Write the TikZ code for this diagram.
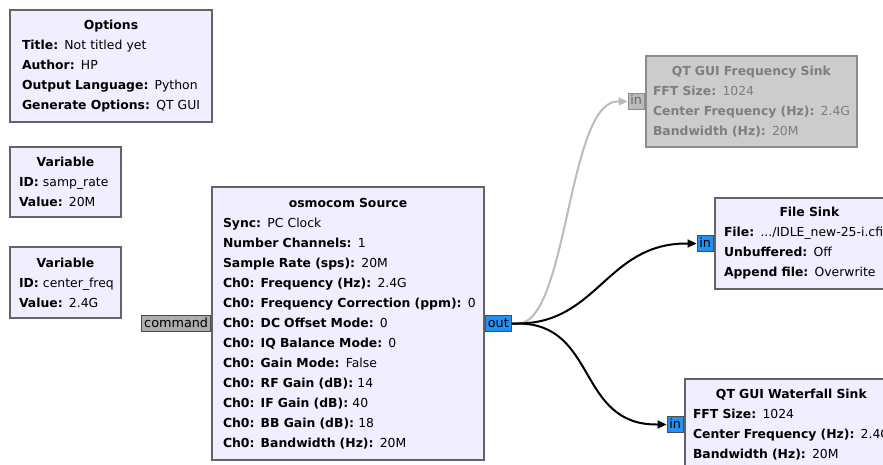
\documentclass[tikz,border=0pt]{standalone}
\usepackage{fontspec}
\setmainfont{DejaVu Sans}
\usetikzlibrary{arrows.meta, positioning}

\definecolor{blkfill}{HTML}{F1EEFF}
\definecolor{blkline}{HTML}{646464}
\definecolor{offfill}{HTML}{CCCCCC}
\definecolor{offline}{HTML}{8C8C8C}
\definecolor{offtext}{HTML}{7E7E7E}
\definecolor{portblue}{HTML}{2291F2}
\definecolor{portgray}{HTML}{ADADAD}
\definecolor{linkgray}{HTML}{BBBBBB}

\newcommand{\kv}[2]{\mbox{\textbf{#1:} #2}}
\newcommand{\btitle}[1]{\makebox[\linewidth]{\textbf{#1}}}

\begin{document}
\begin{tikzpicture}[x=1pt, y=-1pt,
      block/.style={rectangle, draw=blkline, line width=2pt, fill=blkfill, align=left, inner ysep=0pt, anchor=north west, font=\fontsize{12.4}{20}\selectfont},
      offblock/.style={block, draw=offline, fill=offfill, text=offtext},
      port/.style={rectangle, draw=black!70, line width=0.8pt, inner xsep=2.5pt, inner ysep=2pt, text height=9.5pt, text depth=2.5pt, font=\fontsize{12.8}{13}\selectfont},
      link/.style={line width=2pt, -{Triangle[length=9pt,width=8pt]}}
    ]
    \useasboundingbox (0,0) rectangle (883,465);
    \clip (0,0) rectangle (883,465);

    % Options and variables
    \node[block, inner xsep=12pt, text width=178pt, minimum height=112pt] (opts) at (9,9)
      {\btitle{Options}\\ \kv{Title}{Not titled yet}\\ \kv{Author}{HP}\\ \kv{Output Language}{Python}\\ \kv{Generate Options}{QT GUI}};
    \node[block, inner xsep=9pt, text width=93pt, minimum height=70pt] (vrate) at (9,146)
      {\btitle{Variable}\\ \kv{ID}{samp\_rate}\\ \kv{Value}{20M}};
    \node[block, inner xsep=9pt, text width=93pt, minimum height=71pt] (vfreq) at (9,246)
      {\btitle{Variable}\\ \kv{ID}{center\_freq}\\ \kv{Value}{2.4G}};

    % Source
    \node[block, inner xsep=11pt, text width=250pt, minimum height=273pt] (src) at (211,186)
      {\btitle{osmocom Source}\\ \kv{Sync}{PC Clock}\\ \kv{Number Channels}{1}\\ \kv{Sample Rate (sps)}{20M}\\
       \kv{Ch0: Frequency (Hz)}{2.4G}\\ \kv{Ch0: Frequency Correction (ppm)}{0}\\ \kv{Ch0: DC Offset Mode}{0}\\
       \kv{Ch0: IQ Balance Mode}{0}\\ \kv{Ch0: Gain Mode}{False}\\ \kv{Ch0: RF Gain (dB)}{14}\\
       \kv{Ch0: IF Gain (dB)}{40}\\ \kv{Ch0: BB Gain (dB)}{18}\\ \kv{Ch0: Bandwidth (Hz)}{20M}};
    \node[port, fill=portgray, left=0pt of src] (cmd) {command};
    \node[port, fill=portblue, right=0pt of src] (outp) {out};

    % Sinks
    \node[offblock, inner xsep=7pt, text width=197pt, minimum height=91pt] (fsink) at (645,55)
      {\btitle{QT GUI Frequency Sink}\\ \kv{FFT Size}{1024}\\ \kv{Center Frequency (Hz)}{2.4G}\\ \kv{Bandwidth (Hz)}{20M}};
    \node[block, inner xsep=9pt, text width=171pt, minimum height=91pt] (filesink) at (714,197)
      {\btitle{File Sink}\\ \kv{File}{.../IDLE\_new-25-i.cfile}\\ \kv{Unbuffered}{Off}\\ \kv{Append file}{Overwrite}};
    \node[block, inner xsep=8pt, text width=197pt, minimum height=91pt] (wsink) at (684,378)
      {\btitle{QT GUI Waterfall Sink}\\ \kv{FFT Size}{1024}\\ \kv{Center Frequency (Hz)}{2.4G}\\ \kv{Bandwidth (Hz)}{20M}};

    \node[port, fill=linkgray, draw=offline, text=black!60, left=0pt of fsink] (fin) {in};
    \node[port, fill=portblue, left=0pt of filesink] (filein) {in};
    \node[port, fill=portblue, left=0pt of wsink] (win) {in};

    % Connections
    \draw[link, draw=linkgray, color=linkgray] (outp.east) -- ++(6,0) .. controls +(50,0) and +(-50,0) .. ([xshift=-10pt]fin.west) -- (fin.west);
    \draw[link] (outp.east) -- ++(6,0) .. controls +(80,0) and +(-80,0) .. ([xshift=-10pt]filein.west) -- (filein.west);
    \draw[link] (outp.east) -- ++(6,0) .. controls +(80,0) and +(-80,0) .. ([xshift=-10pt]win.west) -- (win.west);
\end{tikzpicture}
\end{document}
